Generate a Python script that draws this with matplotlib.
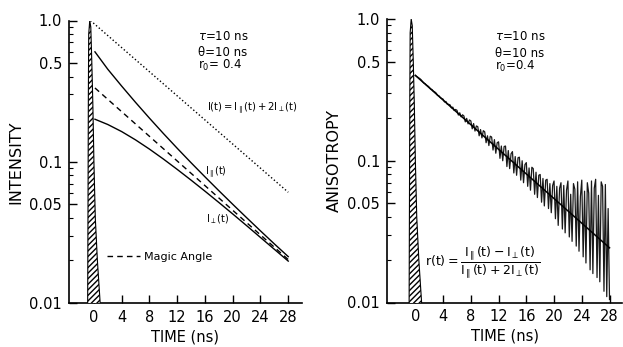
import matplotlib
matplotlib.use("Agg")
import matplotlib.pyplot as plt
from matplotlib.ticker import FixedLocator, FixedFormatter, NullFormatter

plt.rcParams['font.family'] = ['DejaVu Sans']
plt.rcParams['mathtext.fontset'] = 'dejavusans'

# ---------------- data ----------------
# excitation pulse (both panels)
pulse_t = [-0.9, -0.85, -0.8, -0.75, -0.6, -0.45, -0.3, -0.15, 0.0, 0.2, 0.5, 0.9]
pulse_v = [0.01, 0.05, 0.3, 0.8, 1.0, 0.9, 0.5, 0.25, 0.1, 0.04, 0.02, 0.01]

# left panel: intensities
total_t = [-0.5, 28.0]
total_v = [1.0, 0.0608]
magic_t = [0.15, 28.0]
magic_v = [0.333, 0.0203]
curve_t = [0.15, 2, 4, 6, 8, 10, 12, 14, 16, 18, 20, 22, 24, 26, 28]
par_v = [0.600, 0.4516, 0.3432, 0.2632, 0.2036, 0.1587, 0.1246, 0.0984,
         0.0782, 0.0624, 0.0500, 0.0402, 0.0324, 0.0262, 0.0213]
perp_v = [0.200, 0.1835, 0.1635, 0.1428, 0.1229, 0.1046, 0.0883, 0.0741,
          0.0619, 0.0515, 0.0427, 0.0353, 0.0291, 0.0240, 0.0198]

# right panel: anisotropy data (noisy) every 0.2 ns and fitted line
aniso_v = [
    0.400, 0.393, 0.387, 0.381, 0.374,
    0.364, 0.354, 0.350, 0.342, 0.337,
    0.330, 0.321, 0.318, 0.310, 0.306,
    0.300, 0.289, 0.287, 0.279, 0.275,
    0.272, 0.260, 0.262, 0.251, 0.250,
    0.248, 0.236, 0.239, 0.226, 0.230,
    0.227, 0.210, 0.218, 0.204, 0.211,
    0.207, 0.188, 0.199, 0.182, 0.194,
    0.191, 0.168, 0.183, 0.162, 0.176,
    0.174, 0.150, 0.166, 0.145, 0.163,
    0.160, 0.134, 0.150, 0.128, 0.149,
    0.147, 0.119, 0.141, 0.113, 0.134,
    0.136, 0.104, 0.127, 0.100, 0.126,
    0.127, 0.091, 0.118, 0.088, 0.112,
    0.116, 0.082, 0.107, 0.079, 0.105,
    0.106, 0.073, 0.100, 0.070, 0.094,
    0.097, 0.066, 0.089, 0.062, 0.090,
    0.088, 0.058, 0.083, 0.055, 0.079,
    0.080, 0.051, 0.075, 0.048, 0.073,
    0.074, 0.046, 0.069, 0.043, 0.067,
    0.072, 0.039, 0.066, 0.035, 0.064,
    0.070, 0.033, 0.067, 0.031, 0.062,
    0.072, 0.029, 0.058, 0.027, 0.069,
    0.063, 0.025, 0.071, 0.023, 0.056,
    0.073, 0.021, 0.061, 0.019, 0.070,
    0.059, 0.017, 0.072, 0.016, 0.064,
    0.074, 0.015, 0.057, 0.014, 0.071,
    0.066, 0.012, 0.068, 0.011, 0.046,
    0.0105,
]
aniso_t = [round(0.2 * i, 1) for i in range(len(aniso_v))]
fit_t = [0.0, 28.0]
fit_v = [0.40, 0.0243]

xticks = [0, 4, 8, 12, 16, 20, 24, 28]
yticks_major = [0.01, 0.05, 0.1, 0.5, 1.0]
ytick_labels = ['0.01', '0.05', '0.1', '0.5', '1.0']
yticks_minor = [0.02, 0.03, 0.04, 0.06, 0.07, 0.08, 0.09,
                0.2, 0.3, 0.4, 0.6, 0.7, 0.8, 0.9]

# ---------------- figure ----------------
W, H = 623, 347
fig = plt.figure(figsize=(W / 100, H / 100), dpi=100)


def make_axes(x0, x1, y0, y1, xlim):
    ax = fig.add_axes([x0 / W, 1 - y1 / H, (x1 - x0) / W, (y1 - y0) / H])
    ax.set_yscale('log')
    ax.set_ylim(0.01, 1.0)
    ax.set_xlim(*xlim)
    for s in ('top', 'right'):
        ax.spines[s].set_visible(False)
    for s in ('left', 'bottom'):
        ax.spines[s].set_linewidth(1.2)
    ax.yaxis.set_major_locator(FixedLocator(yticks_major))
    ax.yaxis.set_major_formatter(FixedFormatter(ytick_labels))
    ax.yaxis.set_minor_locator(FixedLocator(yticks_minor))
    ax.yaxis.set_minor_formatter(NullFormatter())
    ax.set_xticks(xticks)
    ax.tick_params(axis='both', which='major', direction='in', length=6,
                   width=1.0, labelsize=10.5, pad=5)
    ax.tick_params(axis='y', which='minor', direction='in', length=3, width=0.8)
    ax.set_xlabel('TIME (ns)', fontsize=10.5, labelpad=3)
    ax.fill_between(pulse_t, 0.0001, pulse_v, facecolor='white',
                    edgecolor='black', hatch='//////', linewidth=0.8, zorder=3)
    return ax


# ---- left panel ----
axL = make_axes(69, 301.7, 20.5, 303, (-3.59, 29.94))
axL.plot(total_t, total_v, ':', color='black', lw=1.0)
axL.plot(curve_t, par_v, '-', color='black', lw=1.0)
axL.plot(curve_t, perp_v, '-', color='black', lw=1.0)
axL.plot(magic_t, magic_v, '--', color='black', lw=1.0, dashes=(4, 3),
         label='Magic Angle')
axL.set_ylabel('INTENSITY', fontsize=11.5, labelpad=4)
axL.legend(loc='center left', bbox_to_anchor=(0.163, 0.163), frameon=False,
           handlelength=3.0, handletextpad=0.3, borderaxespad=0, borderpad=0,
           fontsize=8)
axL.text(0.554, 0.942, r'$\tau$=10 ns', transform=axL.transAxes,
         fontsize=8.5, va='center')
axL.text(0.554, 0.888, 'θ=10 ns', transform=axL.transAxes,
         fontsize=8.5, va='center')
axL.text(0.554, 0.842, r'r$_0$= 0.4', transform=axL.transAxes,
         fontsize=8.5, va='center')
axL.text(16.3, 0.236,
         r'$\mathrm{I(t)=I_{\parallel}(t)+2I_{\perp}(t)}$',
         fontsize=7.2, va='center')
axL.text(16.0, 0.083, r'$\mathrm{I_{\parallel}(t)}$', fontsize=7, va='center')
axL.text(16.2, 0.039, r'$\mathrm{I_{\perp}(t)}$', fontsize=7, va='center')

# ---- right panel ----
axR = make_axes(387, 622, 19, 302.5, (-4.09, 29.8))
axR.plot(aniso_t, aniso_v, '-', color='black', lw=0.9, alpha=0.9)
axR.plot(fit_t, fit_v, '-', color='black', lw=1.1)
axR.set_ylabel('ANISOTROPY', fontsize=11.5, labelpad=4)
axR.text(0.46, 0.937, r'$\tau$=10 ns', transform=axR.transAxes,
         fontsize=8.5, va='center')
axR.text(0.46, 0.880, 'θ=10 ns', transform=axR.transAxes,
         fontsize=8.5, va='center')
axR.text(0.46, 0.834, r'r$_0$=0.4', transform=axR.transAxes,
         fontsize=8.5, va='center')
axR.text(0.16, 0.143,
         r'$\mathrm{r(t)=\dfrac{I_{\parallel}(t)-I_{\perp}(t)}{I_{\parallel}(t)+2I_{\perp}(t)}}$',
         transform=axR.transAxes, fontsize=9, va='center')

fig.savefig('out.png', dpi=100)
